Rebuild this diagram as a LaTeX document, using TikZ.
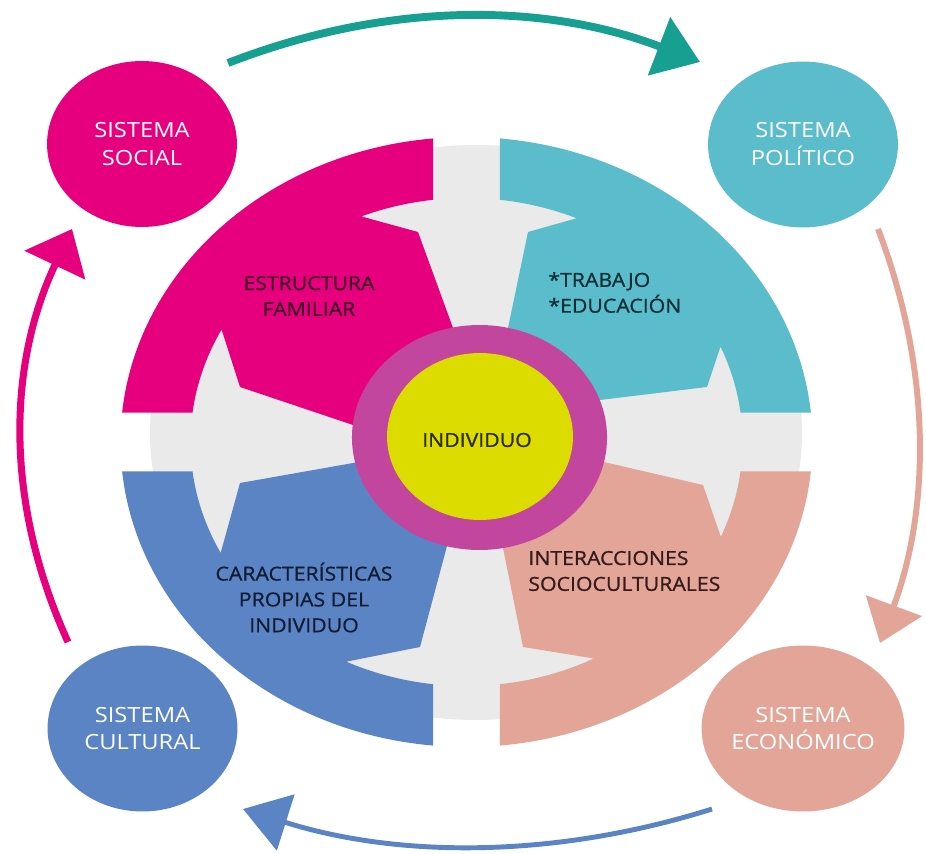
\documentclass[tikz,border=0pt]{standalone}
\usepackage{fontspec}
\setmainfont{Open Sans}
\newfontfamily\petalfont{Open Sans}[FakeBold=0.8]
\usetikzlibrary{shapes.geometric,arrows.meta,calc}
\definecolor{cpink}{HTML}{E6007E}
\definecolor{ccyan}{HTML}{5BBDCB}
\definecolor{cblue}{HTML}{5B84C4}
\definecolor{csalmon}{HTML}{E2A598}
\definecolor{cteal}{HTML}{17A092}
\definecolor{cring}{HTML}{C2459E}
\definecolor{cyellow}{HTML}{DCDC00}
\definecolor{cgrey}{HTML}{EAEAEA}
\definecolor{tpink}{HTML}{420828}
\definecolor{tcyan}{HTML}{0E2E38}
\definecolor{tblue}{HTML}{121C34}
\definecolor{tsalmon}{HTML}{341A1A}
\definecolor{tyellow}{HTML}{2A2A06}
\begin{document}
\begin{tikzpicture}[x=0.02cm,y=-0.02cm,
  sysnode/.style={ellipse,inner sep=0pt,minimum width=3.35cm,minimum height=3.32cm,xscale=1.134,
    align=center,text=white,font=\fontsize{11.9pt}{15.9pt}\selectfont},
  petaltext/.style={inner sep=0pt,xscale=1.1,font=\petalfont\fontsize{11pt}{14.7pt}\selectfont},
  flowarrow/.style={line cap=butt}]
\useasboundingbox (0,0) rectangle (926,854);
\fill[white] (0,0) rectangle (926,854);
\coordinate (C) at (466.5,442);
\fill[cgrey] (476,432.5) ellipse[x radius=326, y radius=287.5];
% pink petal
\fill[cpink] ($(C)+(-95.55:346 and 305)$) arc[start angle=-95.55,end angle=-174.45,x radius=346,y radius=305]
  -- ($(C)+(-173.06:276 and 244)$) arc[start angle=-173.06,end angle=-152.55,x radius=276,y radius=244]
  -- (240,387) -- (353,425) -- (479.5,437.5) -- (453,328) -- (418,232)
  -- ($(C)+(-112.4:276 and 244)$) arc[start angle=-112.4,end angle=-96.94,x radius=276,y radius=244] -- cycle;
% cyan petal
\fill[ccyan] ($(C)+(-84.45:346 and 305)$) arc[start angle=-84.45,end angle=-5.55,x radius=346,y radius=305]
  -- ($(C)+(-6.94:276 and 244)$) arc[start angle=-6.94,end angle=-23.03,x radius=276,y radius=244]
  -- (707,387) -- (600,400) -- (479.5,437.5) -- (508,328) -- (528,232)
  -- ($(C)+(-66.5:276 and 244)$) arc[start angle=-66.5,end angle=-83.06,x radius=276,y radius=244] -- cycle;
% blue petal
\fill[cblue] ($(C)+(95.55:346 and 305)$) arc[start angle=95.55,end angle=174.45,x radius=346,y radius=305]
  -- ($(C)+(173.06:276 and 244)$) arc[start angle=173.06,end angle=152.97,x radius=276,y radius=244]
  -- (240,483) -- (353,463) -- (479.5,437.5) -- (447,546) -- (420,647)
  -- ($(C)+(115.8:276 and 244)$) arc[start angle=115.8,end angle=96.94,x radius=276,y radius=244] -- cycle;
% salmon petal
\fill[csalmon] ($(C)+(5.55:346 and 305)$) arc[start angle=5.55,end angle=84.45,x radius=346,y radius=305]
  -- ($(C)+(83.06:276 and 244)$) arc[start angle=83.06,end angle=62.54,x radius=276,y radius=244]
  -- (523,647) -- (503,548) -- (479.5,437.5) -- (604,462) -- (703,485)
  -- ($(C)+(22.86:276 and 244)$) arc[start angle=22.86,end angle=6.94,x radius=276,y radius=244] -- cycle;
% centre
\node[ellipse,fill=cring,inner sep=0pt,minimum width=4.5cm,minimum height=4.5cm,xscale=1.134] (ring) at (479.5,437.5) {};
\node[ellipse,fill=cyellow,inner sep=0pt,minimum width=3.28cm,minimum height=3.34cm,xscale=1.134] (core) at (480,436.5) {};
\node[petaltext,text=tyellow] (individuo) at (477,440) {INDIVIDUO};
% petal texts
\node[petaltext,text=tpink,align=center] (estructura) at (309,296) {ESTRUCTURA\\FAMILIAR};
\node[petaltext,text=tcyan,align=left,anchor=west] (trabajo) at (548,292.5) {*TRABAJO\\*EDUCACIÓN};
\node[petaltext,text=tblue,align=center] (caract) at (304,597.5) {CARACTERÍSTICAS\\PROPIAS DEL\\INDIVIDUO};
\node[petaltext,text=tsalmon,align=left,anchor=west] (interac) at (528,571) {INTERACCIONES\\SOCIOCULTURALES};
% systems
\node[sysnode,fill=cpink] (social) at (142,144) {SISTEMA\\SOCIAL};
\node[sysnode,fill=ccyan] (politico) at (803,144.5) {SISTEMA\\POLÍTICO};
\node[sysnode,fill=cblue] (cultural) at (142.5,728.5) {SISTEMA\\CULTURAL};
\node[sysnode,fill=csalmon] (economico) at (803,728.5) {SISTEMA\\ECONÓMICO};
% arrow end points
\coordinate (a1s) at (228,63);  \coordinate (a1e) at (700,62);
\coordinate (a2s) at (878,229); \coordinate (a2e) at (880,643);
\coordinate (a3s) at (712,809); \coordinate (a3e) at (243,809);
\coordinate (a4s) at (68,642);  \coordinate (a4e) at (72,229);
\draw[flowarrow,draw=cteal,line width=4.5pt,-{Triangle[length=25pt,width=34.6pt]}]
  (a1s) .. controls +(157.3,-61) and +(-157.3,-60.3) .. (a1e);
\draw[flowarrow,draw=csalmon,line width=3.4pt,-{Triangle[length=22.7pt,width=33.4pt]}]
  (a2s) .. controls +(52.7,138) and +(51.3,-138) .. (a2e);
\draw[flowarrow,draw=cblue,line width=2.8pt,-{Triangle[length=25.5pt,width=33pt]}]
  (a3s) .. controls +(-156.3,49.3) and +(156.3,49.3) .. (a3e);
\draw[flowarrow,draw=cpink,line width=4pt,-{Triangle[length=22.8pt,width=37.5pt]}]
  (a4s) .. controls +(-62.7,-137.7) and +(-65.3,137.7) .. (a4e);
\end{tikzpicture}
\end{document}
